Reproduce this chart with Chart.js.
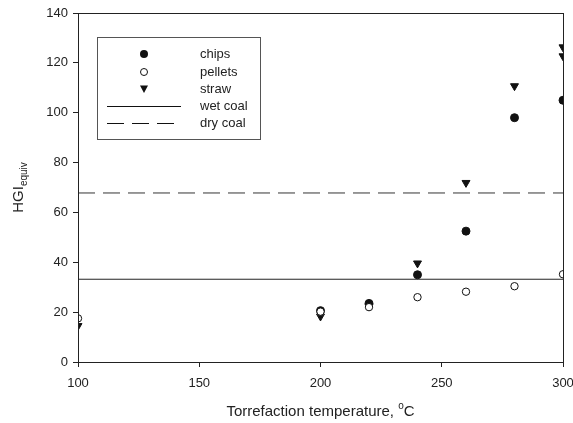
<!DOCTYPE html>
<html>
<head>
<meta charset="utf-8">
<script src="https://cdn.jsdelivr.net/npm/chart.js@4.4.1/dist/chart.umd.min.js"></script>
<style>
	html, body { margin: 0; padding: 0; background: #fff; }
	#wrap { width: 573px; height: 423px; }
</style>
</head>
<body>
<div id="wrap"><canvas id="hgi"></canvas></div>
<script>
var temps = [100, 200, 220, 240, 260, 280, 300];
var chips = [null, 20.6, 23.5, 35, 52.5, 98, 105];
var pellets = [17.5, 20.2, 22, 26, 28.2, 30.4, 35.2];
var strawTemps = [100, 200, 220, 240, 260, 280, 300, 300];
var straw = [14.5, 18.3, 22.3, 39.6, 71.9, 110.7, 126.3, 122.7];
var wetCoal = 33.2;
var dryCoal = 67.8;
var xTicks = [100, 150, 200, 250, 300];

const pts = (xs, ys) => xs.map((x, i) => ({ x: x, y: ys[i] })).filter(p => p.y !== null);
const FONT = '"Liberation Sans", Arial, sans-serif';

// frame, axis titles and the boxed legend
var decor = {
	id: 'decor',
	afterDraw: function (chart) {
		var c = chart.ctx, a = chart.chartArea;
		c.save();
		c.strokeStyle = '#222';
		c.lineWidth = 1;
		c.strokeRect(a.left + 0.5, a.top + 0.5, a.right - a.left, a.bottom - a.top);

		// x title with superscript o
		c.fillStyle = '#222';
		c.textBaseline = 'alphabetic';
		var t1 = 'Torrefaction temperature, ';
		c.font = '15px ' + FONT;
		var w1 = c.measureText(t1).width;
		c.font = '10px ' + FONT;
		var w2 = c.measureText('o').width;
		c.font = '15px ' + FONT;
		var w3 = c.measureText('C').width;
		var x0 = (a.left + a.right) / 2 - (w1 + w2 + w3) / 2;
		c.textAlign = 'left';
		c.fillText(t1, x0, 416);
		c.font = '10px ' + FONT;
		c.fillText('o', x0 + w1, 409);
		c.font = '15px ' + FONT;
		c.fillText('C', x0 + w1 + w2, 416);

		// y title with subscript
		c.save();
		c.translate(23, (a.top + a.bottom) / 2);
		c.rotate(-Math.PI / 2);
		c.font = '15px ' + FONT;
		var h1 = c.measureText('HGI').width;
		c.font = '10px ' + FONT;
		var h2 = c.measureText('equiv').width;
		var y0 = -(h1 + h2) / 2;
		c.font = '15px ' + FONT;
		c.fillText('HGI', y0, 0);
		c.font = '10px ' + FONT;
		c.fillText('equiv', y0 + h1, 4);
		c.restore();

		// legend
		c.strokeStyle = '#555';
		c.strokeRect(97.5, 37.5, 163, 102);
		c.font = '13px ' + FONT;
		c.textBaseline = 'middle';
		var rows = ['chips', 'pellets', 'straw', 'wet coal', 'dry coal'];
		var ys = [54, 72, 89, 106, 123];
		rows.forEach(function (r, i) { c.fillText(r, 200, ys[i]); });
		c.strokeStyle = '#111';
		c.fillStyle = '#111';
		c.beginPath(); c.arc(144, ys[0], 4, 0, Math.PI * 2); c.fill();
		c.fillStyle = '#fff';
		c.beginPath(); c.arc(144, ys[1], 3.5, 0, Math.PI * 2); c.fill(); c.stroke();
		c.fillStyle = '#111';
		c.beginPath(); c.moveTo(140, ys[2] - 3.5); c.lineTo(148, ys[2] - 3.5); c.lineTo(144, ys[2] + 4); c.closePath(); c.fill();
		c.beginPath(); c.moveTo(107, ys[3] + 0.5); c.lineTo(181, ys[3] + 0.5); c.stroke();
		c.setLineDash([17, 8]);
		c.beginPath(); c.moveTo(107, ys[4] + 0.5); c.lineTo(181, ys[4] + 0.5); c.stroke();
		c.restore();
	}
};

new Chart(document.getElementById('hgi'), {
	type: 'scatter',
	data: {
		datasets: [
			{ label: 'chips', data: pts(temps, chips), pointStyle: 'circle', pointRadius: 4, backgroundColor: '#111', borderColor: '#111', borderWidth: 1, order: 2 },
			{ label: 'pellets', data: pts(temps, pellets), pointStyle: 'circle', pointRadius: 3.7, backgroundColor: '#fff', borderColor: '#111', borderWidth: 1, order: 1 },
			{ label: 'straw', data: pts(strawTemps, straw), pointStyle: 'triangle', pointRotation: 180, pointRadius: 4.6, backgroundColor: '#111', borderColor: '#111', borderWidth: 1, order: 3 },
			{ label: 'wet coal', type: 'line', data: [{ x: 100, y: wetCoal }, { x: 300, y: wetCoal }], borderColor: '#222', borderWidth: 1, pointRadius: 0, order: 5 },
			{ label: 'dry coal', type: 'line', data: [{ x: 100, y: dryCoal }, { x: 300, y: dryCoal }], borderColor: '#333', borderWidth: 1, borderDash: [17, 8], pointRadius: 0, order: 5 }
		]
	},
	options: {
		responsive: true,
		maintainAspectRatio: false,
		animation: false,
		layout: { padding: { left: 0, right: 10, top: 13, bottom: 0 } },
		plugins: {
			legend: { display: false },
			tooltip: { enabled: false }
		},
		scales: {
			x: {
				type: 'linear',
				min: 100,
				max: 300,
				afterBuildTicks: function (s) { s.ticks = xTicks.map(v => ({ value: v })); },
				afterFit: function (s) { s.height = 61; s.paddingLeft = 0; s.paddingRight = 0; },
				grid: { drawOnChartArea: false, drawTicks: true, tickLength: 5, color: '#222' },
				border: { color: '#222' },
				ticks: { color: '#222', padding: 9, maxRotation: 0, font: { family: FONT, size: 13 } }
			},
			y: {
				min: 0,
				max: 140,
				afterFit: function (s) { s.width = 78; s.paddingTop = 0; s.paddingBottom = 0; },
				grid: { drawOnChartArea: false, drawTicks: true, tickLength: 5, color: '#222' },
				border: { color: '#222' },
				ticks: { stepSize: 20, color: '#222', padding: 5, font: { family: FONT, size: 13 } }
			}
		}
	},
	plugins: [decor]
});
</script>
</body>
</html>
